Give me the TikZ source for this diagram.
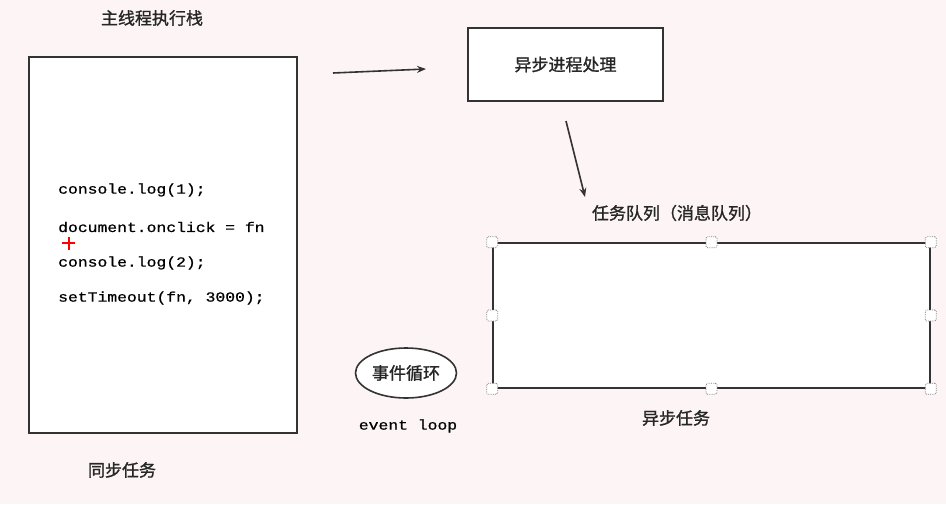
\documentclass[tikz,border=0pt]{standalone}
\usepackage{fontspec}
\setmonofont[FakeBold=0.6]{Liberation Mono}
\newfontfamily\cjk[FakeBold=1.2]{Noto Sans CJK SC}
\usetikzlibrary{shapes.geometric,arrows.meta}
\definecolor{bgpink}{HTML}{FDF5F5}
\definecolor{lineg}{HTML}{333333}
\tikzset{
  cn/.style={font=\cjk\fontsize{17}{20}\selectfont, text=black!85, inner sep=0pt},
  code/.style={font=\ttfamily\fontsize{14}{16}\selectfont, text=black, inner sep=0pt, anchor=west},
  boxed/.style={draw=lineg, line width=1.6pt, fill=white},
  arr/.style={draw=lineg, line width=1.6pt, -{Stealth[length=9pt,width=7pt]}},
  handle/.style={draw=gray, densely dotted, line width=0.8pt, fill=white, minimum size=11pt, inner sep=0pt, rounded corners=1.5pt}
}
\newcommand{\cd}[1]{\scalebox{1.17}[1]{#1}}
\begin{document}
\begin{tikzpicture}[x=1pt,y=-1pt]
\fill[bgpink] (0,0) rectangle (946,504);
\useasboundingbox (0,0) rectangle (946,504);

% main stack
\node[cn] (title) at (152,18) {主线程执行栈};
\draw[boxed] (29,57) rectangle (297,433);
\node[code] (c1) at (58,190) {\cd{console.log(1);}};
\node[code] (c2) at (58,227) {\cd{document.onclick = fn}};
\node[code] (c3) at (58,263) {\cd{console.log(2);}};
\node[code] (c4) at (58,298) {\cd{setTimeout(fn, 3000);}};
\draw[red, line width=2pt] (62,243) -- (75,243) (68.5,236.5) -- (68.5,249.5);
\node[cn] (sync) at (122,470) {同步任务};

% arrow to async
\coordinate (a1s) at (333,73);
\coordinate (a1e) at (426,69);
\draw[arr] (a1s) -- (a1e);

% async process box
\node[boxed, minimum width=195pt, minimum height=73pt, cn, draw=lineg] (async) at (565.5,64.5) {异步进程处理};

\coordinate (a2s) at (566,121);
\coordinate (a2e) at (585,197);
\draw[arr] (a2s) -- (a2e);

% queue
\node[cn] (qlabel) at (677,213) {任务队列（消息队列）};
\node[draw=lineg, line width=1.6pt, fill=white, minimum width=437pt, minimum height=145pt] (queue) at (711.5,315.5) {};
\foreach \a in {north west,north,north east,west,east,south west,south,south east}
  \node[handle] at (queue.\a) {};
\node[cn] (asynctask) at (676,418) {异步任务};

% event loop
\node[ellipse, draw=lineg, line width=1.6pt, fill=white, minimum width=101pt, minimum height=50pt, cn] (loop) at (406,373) {事件循环};
\node[code, anchor=center] (looplabel) at (408,426) {\cd{event loop}};
\end{tikzpicture}
\end{document}
